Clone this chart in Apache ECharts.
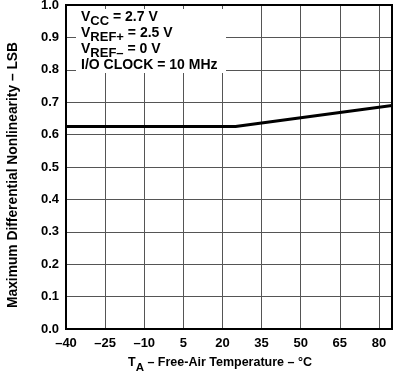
<!DOCTYPE html>
<html>
<head>
<meta charset="utf-8">
<script src="https://cdn.jsdelivr.net/npm/echarts@6/dist/echarts.min.js"></script>
<style>
html,body{margin:0;padding:0;background:#fff;}
#c{width:394px;height:374px;}
</style>
</head>
<body>
<div id="c"></div>
<script>
const temperatures = [-40, 25, 85];
const maxDnl = [0.625, 0.625, 0.69];
const xTickStep = 15;
const yTickStep = 0.1;
const yAxisTitle = 'Maximum Differential Nonlinearity – LSB';
const conditions = [
  ['V', 'CC', ' = 2.7 V'],
  ['V', 'REF+', ' = 2.5 V'],
  ['V', 'REF–', ' = 0 V'],
  ['I/O CLOCK = 10 MHz', '', '']
];

const font = '"Liberation Sans", Arial, Helvetica, sans-serif';
const chart = echarts.init(document.getElementById('c'), null, {renderer: 'canvas'});

const condText = conditions.map(c => c[1] ? `{m|${c[0]}}{s|${c[1]}}{m|${c[2]}}` : `{m|${c[0]}}`).join('\n');

chart.setOption({
  animation: false,
  backgroundColor: '#fff',
  grid: {left: 66, right: 2, top: 5, bottom: 45, containLabel: false, outerBoundsMode: 'none'},
  xAxis: {
    type: 'value', min: -40, max: 85, interval: xTickStep,
    axisLine: {show: false},
    axisTick: {show: false},
    splitLine: {show: true, lineStyle: {color: '#555', width: 1}},
    axisLabel: {
      color: '#000', fontFamily: font, fontWeight: 'bold', fontSize: 13, margin: 8,
      showMaxLabel: false,
      formatter: v => v === 85 ? '' : (v < 0 ? '–' + Math.abs(v) : String(v))
    },
    name: '{m|T}{s|A}{m| – Free-Air Temperature – °C}',
    nameLocation: 'middle', nameGap: 27,
    nameTextStyle: {
      padding: [0, 18, 0, 0],
      rich: {
        m: {fontFamily: font, fontWeight: 'bold', fontSize: 12.5, color: '#000', lineHeight: 16, verticalAlign: 'top'},
        s: {fontFamily: font, fontWeight: 'bold', fontSize: 11.5, color: '#000', lineHeight: 16, padding: [6, 0, 0, 0], verticalAlign: 'top'}
      }
    }
  },
  yAxis: {
    type: 'value', min: 0, max: 1, interval: yTickStep,
    axisLine: {show: false},
    axisTick: {show: false},
    splitLine: {show: true, lineStyle: {color: '#555', width: 1}},
    axisLabel: {
      color: '#000', fontFamily: font, fontWeight: 'bold', fontSize: 13, margin: 7,
      formatter: v => v.toFixed(1)
    }
  },
  graphic: [
    {type: 'rect', shape: {x: 76, y: 9, width: 150, height: 64}, style: {fill: '#fff'}, z: 50, silent: true},
    {type: 'rect', shape: {x: 66, y: 5, width: 326, height: 324}, style: {fill: 'none', stroke: '#000', lineWidth: 2}, z: 100, silent: true},
    {type: 'text', x: 81, y: 10, z: 60, silent: true,
     style: {
       text: condText,
       rich: {
         m: {fontFamily: font, fontWeight: 'bold', fontSize: 14, fill: '#000', lineHeight: 16, verticalAlign: 'top'},
         s: {fontFamily: font, fontWeight: 'bold', fontSize: 13, fill: '#000', lineHeight: 16, padding: [5, 0, 0, 0], verticalAlign: 'top'}
       }
     }},
    {type: 'text', x: 13, y: 175, rotation: Math.PI / 2, z: 60, silent: true,
     style: {text: yAxisTitle, fontFamily: font, fontWeight: 'bold', fontSize: 13.8, fill: '#000', align: 'center', verticalAlign: 'middle'}}
  ],
  series: [{
    type: 'line',
    data: temperatures.map((t, i) => [t, maxDnl[i]]),
    symbol: 'none',
    lineStyle: {color: '#000', width: 3},
    z: 10
  }]
});
</script>
</body>
</html>
